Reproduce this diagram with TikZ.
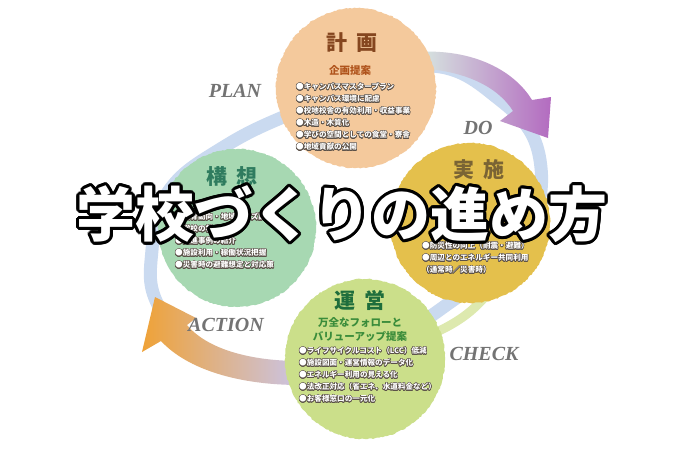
\documentclass[tikz,border=0pt]{standalone}
\usepackage{fontspec}
\setmainfont{Liberation Serif}
\newfontfamily\jpfont{Noto Sans CJK JP}
\usetikzlibrary{calc,decorations.pathmorphing}
\definecolor{plancol}{HTML}{F4C99C}
\definecolor{plantitle}{HTML}{85461F}
\definecolor{plansub}{HTML}{B0541C}
\definecolor{ideacol}{HTML}{A7D8B2}
\definecolor{ideatitle}{HTML}{2F7C5F}
\definecolor{docol}{HTML}{E4C04C}
\definecolor{dotitle}{HTML}{7A6434}
\definecolor{runcol}{HTML}{CBDF8A}
\definecolor{runtitle}{HTML}{1F6E3C}
\definecolor{runsub}{HTML}{3A8C3A}
\definecolor{ringblue}{HTML}{CADAF0}
\definecolor{paleolive}{HTML}{DDE9AE}
\definecolor{mintfade}{HTML}{D8EBE1}
\definecolor{arrowpurple}{HTML}{B36BC0}
\definecolor{arrowmid}{HTML}{C9B2D6}
\definecolor{arroworange}{HTML}{EFA237}
\definecolor{arrowpeach}{HTML}{E3B8A4}
\definecolor{lavender}{HTML}{CAC4E6}
\definecolor{outlinegray}{HTML}{5A5048}
\tikzset{
  stagecircle/.style={circle, inner sep=0pt,
    decorate, decoration={random steps, segment length=2pt, amplitude=0.6pt}},
  stagetitle/.style={font=\jpfont\bfseries\fontsize{21}{21}\selectfont},
  stagesub/.style={font=\jpfont\bfseries\fontsize{10.5}{14}\selectfont, align=center},
  bullettext/.style={font=\jpfont\bfseries\fontsize{7.6}{12}\selectfont,
    align=left, inner sep=0pt, anchor=north west, text=white},
  pdcalabel/.style={font=\bfseries\itshape\fontsize{20}{20}\selectfont, text=black!55},
  maintitle/.style={font=\jpfont\bfseries\fontsize{59}{59}\selectfont, inner sep=0pt,
    text=white, rimtext/.style={text=black}},
  rimtext/.style={text=outlinegray},
  cyclering/.style={draw=ringblue, line width=13pt},
}
% text with a dark rim
\newcommand{\outlinetext}[5][0.55pt]{%
  \foreach \ang in {0,22.5,...,337.5}
    \node[#4, rimtext] at ($(#3)+(\ang:#1)$) {#5};
  \node[#4] (#2) at (#3) {#5};
}
\begin{document}
\begin{tikzpicture}[x=1pt, y=-1pt]
  \useasboundingbox[fill=white] (0,0) rectangle (700,451);

  % ring behind the four stages
  \draw[line width=9pt, draw=paleolive] (492,288) .. controls (470,318) and (445,330) .. (405,345);
  \draw[cyclering] plot[smooth cycle, tension=0.7] coordinates {
    (300,110) (420,66) (500,100) (540,160) (522,240) (445,306) (370,350)
    (290,372) (205,356) (158,305) (152,250) (168,192) (222,148)};

  % PLAN -> DO arrow
  \shade[left color=mintfade, middle color=arrowmid, right color=arrowpurple]
    (415,52) .. controls (475,48) and (515,72) .. (532,100) -- (551,97) -- (548,138)
    -- (500,121) -- (513,111) .. controls (498,87) and (465,70) .. (415,68) -- cycle;
  % ACTION arrow
  \shade[left color=arroworange, middle color=arrowpeach, right color=lavender]
    (300,361) .. controls (250,361) and (207,349) .. (187,325) -- (196,318) -- (155,297)
    -- (142,352) -- (161,341) .. controls (188,370) and (240,385) .. (300,385) -- cycle;

  % stages
  \node[stagecircle, fill=plancol, minimum size=160pt] (plan) at (356,88) {};
  \node[stagecircle, fill=ideacol, minimum size=158pt] (idea) at (237,228) {};
  \node[stagecircle, fill=docol, minimum size=160pt] (do) at (470,223) {};
  \node[stagecircle, fill=runcol, minimum size=160pt] (run) at (365,359) {};

  \node[stagetitle, text=plantitle] (plantitle) at (352,43) {計\hspace{0.4em}画};
  \node[stagesub, text=plansub] (plansub) at (350,70) {企画提案};
  \outlinetext{planlist}{296,83}{bullettext}{●キャンパスマスタープラン\\●キャンパス環境に配慮\\●校地校舎の有効利用・収益事業\\●木造・木質化\\●学びの空間としての食堂・寮舎\\●地域貢献の公開}

  \node[stagetitle, text=ideatitle] (ideatitle) at (232,177) {構\hspace{0.4em}想};
  \outlinetext{idealist}{175,213}{bullettext}{●教育動向・地域ニーズ調査\\●学校の将来計画\\●先進事例の紹介\\●施設利用・稼働状況把握\\●災害時の避難想定と対応策}

  \node[stagetitle, text=dotitle] (dotitle) at (479,170) {実\hspace{0.4em}施};
  \outlinetext{dolist}{422,242}{bullettext}{●防災性の向上（耐震・避難）\\●周辺とのエネルギー共同利用\\（通常時／災害時）}

  \node[stagetitle, text=runtitle] (runtitle) at (360,300) {運\hspace{0.4em}営};
  \node[stagesub, text=runsub] (runsub) at (360,330) {万全なフォローと\\バリューアップ提案};
  \outlinetext{runlist}{299,347}{bullettext}{●ライフサイクルコスト（LCC）低減\\●施設図面・運営情報のデータ化\\●エネルギー利用の見える化\\●法改正対応（省エネ、水道料金など）\\●お客様窓口の一元化}

  % cycle labels
  \node[pdcalabel] (planlabel) at (235,91) {PLAN};
  \node[pdcalabel] (dolabel) at (478,128) {DO};
  \node[pdcalabel] (checklabel) at (484,354) {CHECK};
  \node[pdcalabel] (actionlabel) at (226,325) {ACTION};

  % headline over everything
  \outlinetext[3.2pt]{headline}{342,214}{maintitle}{学校づくりの進め方}
\end{tikzpicture}
\end{document}
